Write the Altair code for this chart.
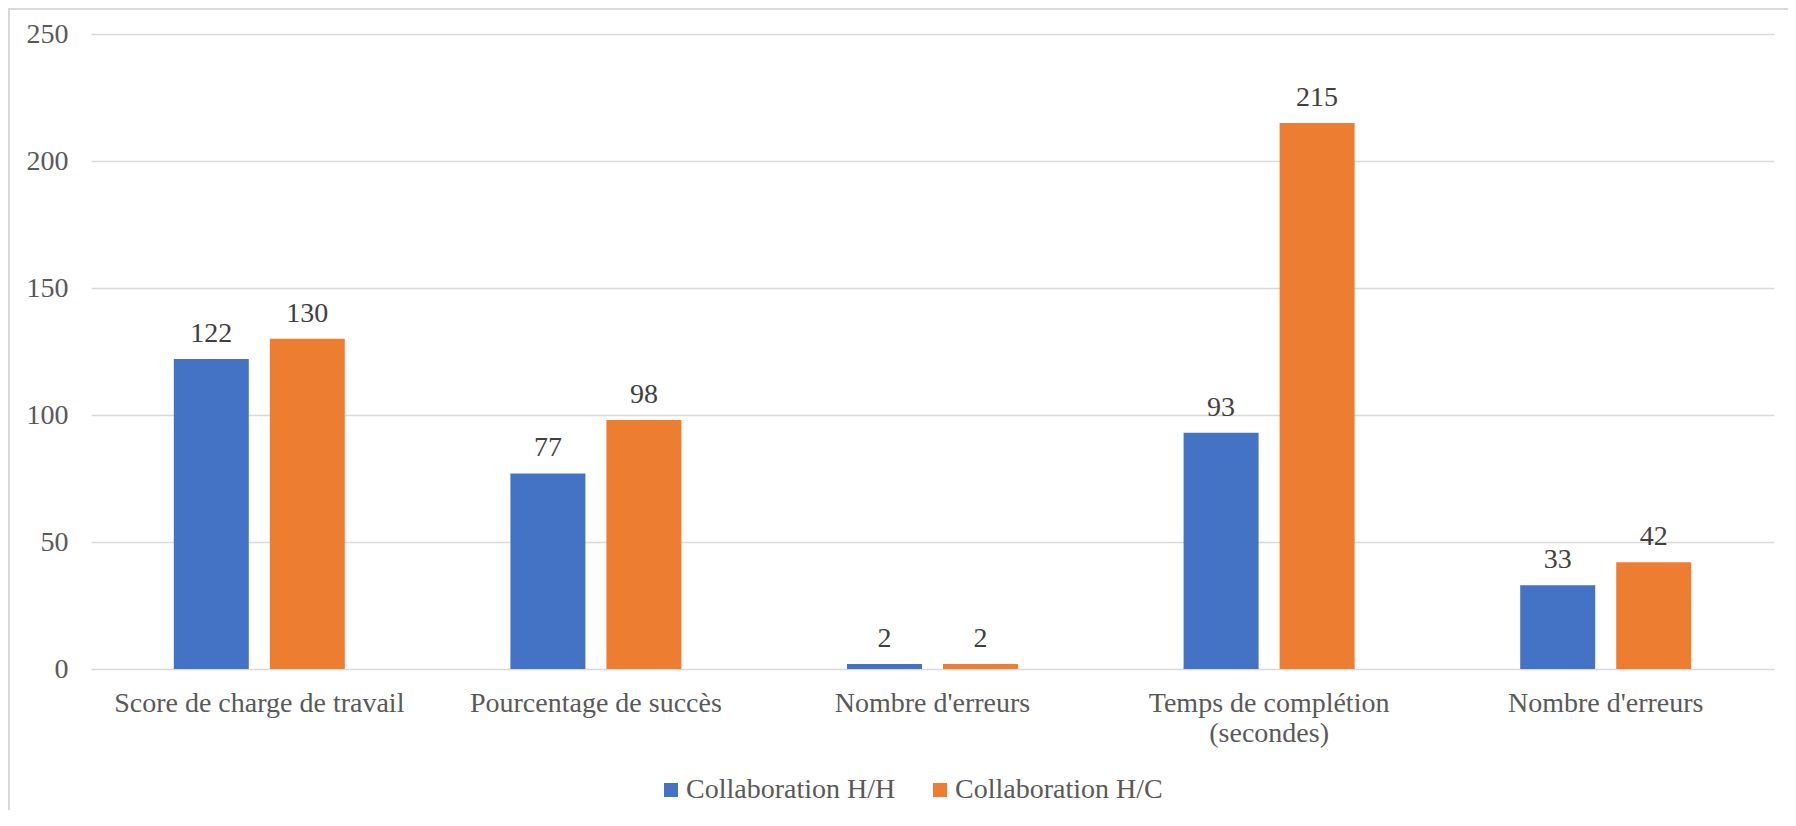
import json
import altair as alt
import pandas as pd

# ---- data ----
categories = ["c1", "c2", "c3", "c4", "c5"]
category_labels = [
    ["Score de charge de travail"],
    ["Pourcentage de succès"],
    ["Nombre d'erreurs"],
    ["Temps de complétion", "(secondes)"],
    ["Nombre d'erreurs"],
]
series_names = ["Collaboration H/H", "Collaboration H/C"]
hh_values = [122, 77, 2, 93, 33]
hc_values = [130, 98, 2, 215, 42]
series_colors = ["#4472C4", "#ED7D31"]
y_ticks = [0, 50, 100, 150, 200, 250]

rows = []
for cat, a, b in zip(categories, hh_values, hc_values):
    rows.append({"category": cat, "series": series_names[0], "value": a})
    rows.append({"category": cat, "series": series_names[1], "value": b})
df = pd.DataFrame(rows)

FONT = "'Liberation Serif', 'Times New Roman', serif"
label_expr = (
    json.dumps(category_labels, ensure_ascii=False)
    + "[indexof(" + json.dumps(categories) + ", datum.value)]"
)

x_enc = alt.X(
    "category:N",
    sort=categories,
    scale=alt.Scale(paddingInner=0.492, paddingOuter=0.246),
    axis=alt.Axis(
        title=None, labelExpr=label_expr, labelAngle=0, labelFont=FONT,
        labelFontSize=28, labelColor="#595959", labelPadding=20,
        ticks=False, tickSize=0, domain=False, labelLineHeight=30,
        labelBaseline="top", labelLimit=0,
    ),
)
xoff_enc = alt.XOffset(
    "series:N", sort=series_names,
    scale=alt.Scale(paddingInner=0.219, paddingOuter=0),
)
y_enc = alt.Y(
    "value:Q",
    scale=alt.Scale(domain=[0, 250], nice=False),
    axis=alt.Axis(
        values=y_ticks, title=None, labelFont=FONT, labelFontSize=28,
        labelColor="#595959", labelPadding=23, ticks=False, tickSize=0,
        domain=False, gridColor="#D9D9D9", gridWidth=1.5,
    ),
)
color_enc = alt.Color(
    "series:N",
    sort=series_names,
    scale=alt.Scale(domain=series_names, range=series_colors),
    legend=alt.Legend(
        orient="none", legendX=566, legendY=742, direction="horizontal",
        title=None, symbolType="square", symbolSize=196, symbolStrokeWidth=0,
        labelFont=FONT, labelFontSize=28, labelColor="#595959",
        labelOffset=1, columnPadding=30, symbolOpacity=1, labelLimit=0,
    ),
)

border = alt.Chart(pd.DataFrame({"k": [0]})).mark_rect(
    fill="transparent", stroke="#D9D9D9", strokeWidth=2
).encode(
    x=alt.value(-82), x2=alt.value(1900), y=alt.value(-25), y2=alt.value(1000)
)

bars = alt.Chart(df).mark_bar().encode(
    x=x_enc, xOffset=xoff_enc, y=y_enc, color=color_enc
)

texts = alt.Chart(df).mark_text(
    baseline="alphabetic", dy=-17, font=FONT, fontSize=28, color="#404040"
).encode(
    x=x_enc, xOffset=xoff_enc, y=y_enc, text="value:Q"
)

chart = alt.layer(border, bars, texts).properties(
    width=1683,
    height=635,
    padding={"left": 83, "top": 26, "right": 14, "bottom": 141},
    autosize=alt.AutoSizeParams(type="none"),
    background="white",
).configure_view(stroke=None)

chart.save("out.html", embed_options={"renderer": "svg", "actions": False})
